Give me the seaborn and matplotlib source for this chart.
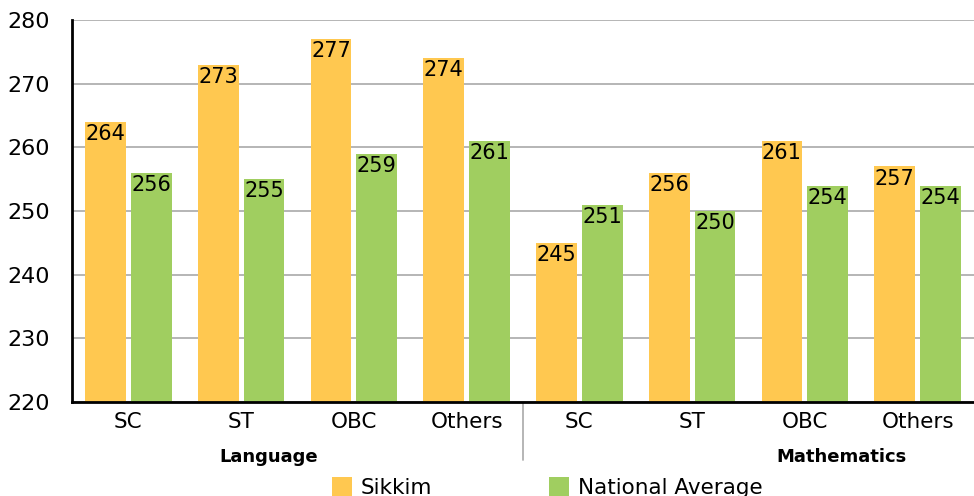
import pandas as pd
import matplotlib
matplotlib.use("Agg")
import matplotlib.pyplot as plt
import matplotlib.patches as mpatches
import seaborn as sns

# --- DATA ---
subjects = ["Language", "Mathematics"]
groups = ["SC", "ST", "OBC", "Others"]
sikkim = [264, 273, 277, 274, 245, 256, 261, 257]
national = [256, 255, 259, 261, 251, 250, 254, 254]
series = ["Sikkim", "National Average"]
colors = {"Sikkim": "#FFC850", "National Average": "#A0CE60"}

# build the long table: one row per bar
keys = [f"{s} {g}" for s in subjects for g in groups]
rows = []
for k, a, b in zip(keys, sikkim, national):
    rows.append({"key": k, "series": "Sikkim", "score": a})
    rows.append({"key": k, "series": "National Average", "score": b})
df = pd.DataFrame(rows)


def main():
    sns.set_style("white")
    plt.rcParams["font.family"] = ["DejaVu Sans"]
    plt.rcParams["text.color"] = "black"
    plt.rcParams["xtick.labelcolor"] = "black"
    plt.rcParams["ytick.labelcolor"] = "black"

    fig = plt.figure(figsize=(9.74, 4.96), dpi=100)
    ax = fig.add_axes([72 / 974, 1 - 402 / 496, 1 - 72 / 974, 382 / 496])

    sns.barplot(data=df, x="key", y="score", hue="series", order=keys,
                hue_order=series, palette=colors, width=0.814, gap=0.11,
                saturation=1, legend=False, linewidth=0, ax=ax)

    ax.set_ylim(220, 280)
    ax.set_xlim(-0.5, len(keys) - 0.5)
    ax.set_yticks(range(220, 281, 10))
    ax.set_xlabel("")
    ax.set_ylabel("")

    # value labels inside the top of each bar
    for p in ax.patches:
        h = p.get_height()
        if h <= 0:
            continue
        ax.annotate(f"{h:.0f}", (p.get_x() + p.get_width() / 2, h),
                    xytext=(0, -1.5), textcoords="offset points",
                    ha="center", va="top", fontsize=15, color="black")

    # axes styling
    for side in ["top", "right"]:
        ax.spines[side].set_visible(False)
    for side in ["left", "bottom"]:
        ax.spines[side].set_color("black")
        ax.spines[side].set_linewidth(2)
    ax.yaxis.grid(True, color="#b0b0b0", linewidth=1.3)
    ax.set_axisbelow(True)

    ax.tick_params(axis="y", length=11, width=1.3, color="#b0b0b0",
                   labelsize=16, pad=5, labelcolor="black")
    ax.set_xticks(range(len(keys)))
    ax.set_xticklabels(groups * 2)
    ax.tick_params(axis="x", length=0, labelsize=15.5, pad=7,
                   labelcolor="black")
    ax.set_xticks([i + 0.5 for i in range(len(keys) - 1)], minor=True)
    ax.tick_params(axis="x", which="minor", length=5, width=1, color="#b0b0b0")

    # divider between the two subjects
    ax.plot([3.5, 3.5], [0, -58 / 382], transform=ax.get_xaxis_transform(),
            color="#b0b0b0", linewidth=1.3, clip_on=False)

    # subject labels
    for name, xc in zip(subjects, [269, 841]):
        fig.text(xc / 974, 1 - 457 / 496, name, ha="center", va="center",
                 fontsize=13, fontweight="bold", color="black",
                 family=["Liberation Sans Narrow", "DejaVu Sans"])

    # legend
    handles = [mpatches.Patch(color=colors[s], label=s, linewidth=0) for s in series]
    fig.legend(handles=handles, loc="upper left",
               bbox_to_anchor=(332 / 974, 1 - 477 / 496), ncol=2,
               frameon=False, fontsize=15.5, borderpad=0, borderaxespad=0,
               handlelength=0.95, handleheight=0.95, handletextpad=0.4,
               columnspacing=5.4)

    fig.savefig("out.png", dpi=100)


if __name__ == "__main__":
    main()
